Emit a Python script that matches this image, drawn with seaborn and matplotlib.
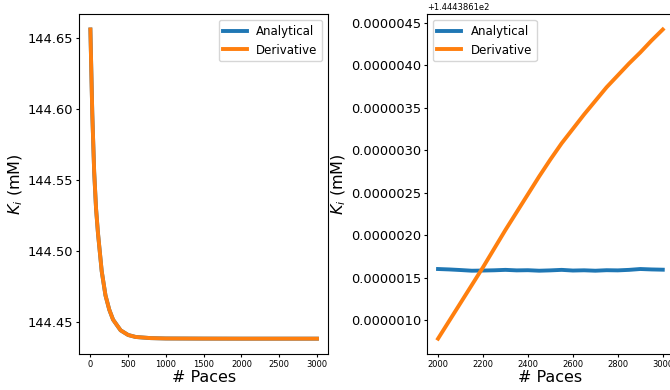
import numpy as np
import matplotlib
matplotlib.use('Agg')
import matplotlib.pyplot as plt
import seaborn as sns
from matplotlib.ticker import FuncFormatter

# Full run: K_i over all paces (both methods overlap at this scale)
paces_full = [0, 25, 50, 75, 100, 150, 200, 250, 300, 400, 500, 600, 800,
              1000, 1500, 2000, 2500, 3000]
ki_full = [144.656, 144.597, 144.556, 144.530, 144.513, 144.486, 144.469,
           144.459, 144.452, 144.4445, 144.4412, 144.4398, 144.4390,
           144.43875, 144.43866, 144.43862, 144.43862, 144.43862]

# Late paces, zoomed: values above the offset, in units of 1e-6 mM
ki_offset = 144.43861
paces_late = [2000, 2050, 2100, 2150, 2200, 2250, 2300, 2350, 2400, 2450, 2500,
              2550, 2600, 2650, 2700, 2750, 2800, 2850, 2900, 2950, 3000]
analytical_late = [1.600, 1.595, 1.588, 1.580, 1.582, 1.585, 1.590, 1.584, 1.586,
                   1.580, 1.584, 1.590, 1.582, 1.585, 1.580, 1.586, 1.584, 1.590,
                   1.600, 1.595, 1.592]
derivative_late = [0.78, 0.99, 1.20, 1.41, 1.62, 1.84, 2.06, 2.27, 2.48, 2.69,
                   2.89, 3.08, 3.25, 3.42, 3.58, 3.74, 3.88, 4.02, 4.15, 4.29, 4.42]
right_yticks = [1.0, 1.5, 2.0, 2.5, 3.0, 3.5, 4.0, 4.5]

blue = '#1f77b4'
orange = '#ff7f0e'

fig = plt.figure(figsize=(6.7, 3.9), dpi=100)
ax1 = fig.add_axes([0.118, 0.092, 0.372, 0.872])
ax2 = fig.add_axes([0.637, 0.092, 0.369, 0.872])

# Left: whole simulation
sns.lineplot(x=paces_full, y=ki_full, ax=ax1, color=blue, linewidth=2.8, label='Analytical')
sns.lineplot(x=paces_full, y=ki_full, ax=ax1, color=orange, linewidth=2.8, label='Derivative')
ax1.set_xticks(range(0, 3001, 500))
ax1.set_yticks([144.45, 144.50, 144.55, 144.60, 144.65])
ax1.yaxis.set_major_formatter(FuncFormatter(lambda v, p: f'{v:.2f}'))
ax1.tick_params(axis='both', length=2.5, pad=1.5)
ax1.tick_params(axis='x', labelsize=6)
ax1.tick_params(axis='y', labelsize=9.4)
ax1.set_xlabel('# Paces', fontsize=11.5, labelpad=1)
ax1.set_ylabel('$K_i$ (mM)', fontsize=11.5, labelpad=2)
ax1.legend(loc='upper right', fontsize=8.5)

# Right: last 1000 paces
sns.lineplot(x=paces_late, y=ki_offset + np.array(analytical_late) * 1e-6, ax=ax2,
             color=blue, linewidth=2.8, label='Analytical')
sns.lineplot(x=paces_late, y=ki_offset + np.array(derivative_late) * 1e-6, ax=ax2,
             color=orange, linewidth=2.8, label='Derivative')
ax2.set_xticks(range(2000, 3001, 200))
ax2.set_yticks(ki_offset + np.array(right_yticks) * 1e-6)
ax2.yaxis.set_major_formatter(FuncFormatter(lambda v, p: f'{(v - ki_offset):.7f}'))
ax2.tick_params(axis='both', length=2.5, pad=1.5)
ax2.tick_params(axis='x', labelsize=6)
ax2.tick_params(axis='y', labelsize=9.4)
ax2.set_xlabel('# Paces', fontsize=11.5, labelpad=1)
ax2.set_ylabel('$K_i$ (mM)', fontsize=11.5, labelpad=2)
ax2.text(0.0, 1.005, '+1.4443861e2', transform=ax2.transAxes, fontsize=6,
         ha='left', va='bottom')
ax2.legend(loc='upper left', fontsize=8.5)

fig.savefig('out.png', dpi=100)
